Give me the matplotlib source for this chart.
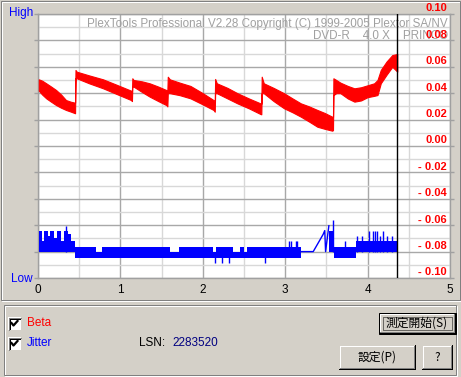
import numpy as np
import matplotlib.pyplot as plt
from matplotlib.patches import Rectangle

## Beta (red): upper / lower edge of the noisy band
beta_x = [0.01, 0.05, 0.10, 0.16, 0.22, 0.28, 0.34, 0.40, 0.45,
          0.455, 0.47, 0.62, 0.79, 0.95, 1.13, 1.14,
          1.145, 1.16, 1.26, 1.355, 1.46, 1.557, 1.57,
          1.575, 1.60, 1.72, 1.85, 2.00, 2.13, 2.145,
          2.15, 2.17, 2.30, 2.42, 2.56, 2.70, 2.71,
          2.715, 2.74, 2.86, 2.985, 3.09, 3.19, 3.29, 3.39, 3.48, 3.57, 3.58,
          3.585, 3.62, 3.67, 3.76, 3.84, 3.92, 4.00, 4.08, 4.12, 4.16, 4.23, 4.30, 4.36]
beta_hi = [0.0505, 0.0495, 0.0475, 0.0450, 0.0424, 0.0390, 0.0348, 0.0335, 0.0328,
           0.0576, 0.0563, 0.0535, 0.0505, 0.0465, 0.0419, 0.0410,
           0.0513, 0.0500, 0.0490, 0.0475, 0.0450, 0.0424, 0.0420,
           0.0525, 0.0505, 0.0480, 0.0455, 0.0400, 0.0348, 0.0340,
           0.0508, 0.0475, 0.0440, 0.0400, 0.0360, 0.0323, 0.0320,
           0.0525, 0.0475, 0.0440, 0.0400, 0.0360, 0.0323, 0.0300, 0.0273, 0.0250, 0.0222, 0.0220,
           0.0513, 0.0500, 0.0480, 0.0455, 0.0437, 0.0445, 0.0460, 0.0475, 0.0500, 0.0576, 0.0640, 0.0689, 0.0697]
beta_lo = [0.0419, 0.0390, 0.0361, 0.0335, 0.0310, 0.0290, 0.0273, 0.0260, 0.0248,
           0.0513, 0.0513, 0.0475, 0.0437, 0.0395, 0.0348, 0.0340,
           0.0450, 0.0450, 0.0410, 0.0374, 0.0340, 0.0310, 0.0300,
           0.0400, 0.0400, 0.0385, 0.0361, 0.0315, 0.0273, 0.0260,
           0.0400, 0.0400, 0.0360, 0.0323, 0.0285, 0.0242, 0.0240,
           0.0400, 0.0400, 0.0340, 0.0286, 0.0255, 0.0222, 0.0185, 0.0146, 0.0130, 0.0116, 0.0120,
           0.0386, 0.0400, 0.0400, 0.0360, 0.0336, 0.0345, 0.0370, 0.0380, 0.0386, 0.0475, 0.0540, 0.0600, 0.0563]

## Jitter (blue): step band (top / bottom) around the -0.08 base line
jit_x = [0.016, 0.05, 0.07, 0.12, 0.15, 0.20, 0.23, 0.28, 0.31, 0.36, 0.40,
         0.454, 0.70, 0.78, 1.60, 1.71, 2.12, 2.16, 2.37, 2.45, 2.50, 2.54,
         3.19, 3.53, 3.595, 3.86, 4.37]
jit_hi = [-0.0644, -0.0718, -0.0644, -0.0680, -0.0644, -0.0700, -0.0644, -0.0718, -0.0644, -0.0667, -0.0718,
          -0.0764, -0.0800, -0.0764, -0.0800, -0.0764, -0.0800, -0.0764, -0.0800, -0.0764, -0.0800, -0.0764,
          -0.0800, -0.0645, -0.0764, -0.0718, -0.0718]
jit_lo = [-0.0800, -0.0800, -0.0800, -0.0800, -0.0800, -0.0800, -0.0800, -0.0800, -0.0800, -0.0800, -0.0800,
          -0.0846, -0.0846, -0.0846, -0.0846, -0.0846, -0.0846, -0.0846, -0.0846, -0.0846, -0.0846, -0.0846,
          -0.0800, -0.0800, -0.0846, -0.0800, -0.0800]
## flat part + ramp before the last zone
ramp_x = [3.19, 3.34, 3.40, 3.46, 3.48, 3.49, 3.53]
ramp_y = [-0.0800, -0.0800, -0.0735, -0.0670, -0.0641, -0.0800, -0.0604]
## single spikes
spk_x = [0.34, 3.045, 3.066, 3.127, 3.147, 3.585, 3.73, 3.877, 3.93, 4.02, 4.06,
         4.09, 4.12, 4.15, 4.19, 4.24, 4.30]
spk_y = [-0.0606, -0.0718, -0.0718, -0.0718, -0.0718, -0.0560, -0.0718, -0.0679, -0.0679, -0.0641, -0.0641,
         -0.0641, -0.0641, -0.0679, -0.0641, -0.0679, -0.0679]
dip_x = [2.145, 2.235, 2.315, 2.76]
dip_y = [-0.089, -0.089, -0.089, -0.089]
base = -0.080

marker_x = 4.355   # current position
lsn = '2283520'

x_ticks = [0, 1, 2, 3, 4, 5]
beta_ticks = [0.10, 0.08, 0.06, 0.04, 0.02, 0.00, -0.02, -0.04, -0.06, -0.08, -0.10]
beta_labels = ['0.10', '0.08', '0.06', '0.04', '0.02', '0.00',
               '- 0.02', '- 0.04', '- 0.06', '- 0.08', '- 0.10']

plt.rcParams['font.family'] = ['Liberation Sans', 'DejaVu Sans']
PX = 0.72          # one pixel in points
WIN = '#D4D0C8'
jp = ['Noto Sans CJK JP', 'DejaVu Sans']

fig = plt.figure(figsize=(4.61, 3.77), dpi=100, facecolor=WIN)

## background layer in pixel coordinates
bg = fig.add_axes([0, 0, 1, 1], zorder=0)
bg.set_xlim(0, 461)
bg.set_ylim(377, 0)
bg.axis('off')

def groove(x0, y0, x1, y1):
    bg.add_patch(Rectangle((x0 + 1, y0 + 1), x1 - x0, y1 - y0, fill=False, ec='white', lw=PX))
    bg.add_patch(Rectangle((x0, y0), x1 - x0, y1 - y0, fill=False, ec='#808080', lw=PX))

groove(0.5, 0.5, 459.5, 299.5)
groove(3.5, 304.5, 455.5, 374.5)

def button(x0, y0, x1, y1, label, default=False):
    bg.add_patch(Rectangle((x0, y0), x1 - x0, y1 - y0, fc=WIN, ec='none'))
    if default:
        bg.add_patch(Rectangle((x0 + 0.5, y0 + 0.5), x1 - x0 - 1, y1 - y0 - 1, fill=False, ec='black', lw=PX))
        x0, y0, x1, y1 = x0 + 1, y0 + 1, x1 - 1, y1 - 1
    bg.plot([x0 + 0.5, x1 - 1], [y0 + 0.5, y0 + 0.5], color='white', lw=PX)
    bg.plot([x0 + 0.5, x0 + 0.5], [y0 + 0.5, y1 - 1], color='white', lw=PX)
    bg.plot([x0, x1 - 0.5], [y1 - 0.5, y1 - 0.5], color='black', lw=PX)
    bg.plot([x1 - 0.5, x1 - 0.5], [y0, y1 - 0.5], color='black', lw=PX)
    bg.plot([x0 + 1, x1 - 1.5], [y1 - 1.5, y1 - 1.5], color='#808080', lw=PX)
    bg.plot([x1 - 1.5, x1 - 1.5], [y0 + 1, y1 - 1.5], color='#808080', lw=PX)
    if default:
        bg.add_patch(Rectangle((x0 + 3.5, y0 + 3.5), x1 - x0 - 7, y1 - y0 - 7, fill=False,
                               ec='black', lw=PX, ls=(0, (1, 1))))
    bg.text((x0 + x1) / 2, (y0 + y1) / 2 + 0.5, label, ha='center', va='center',
            fontsize=8.5, family=jp)

button(378, 312, 456, 334, '測定開始(S)', default=True)
button(339, 345, 415, 369, '設定(P)')
button(422, 345, 452, 369, '?')

def checkbox(x0, y0):
    bg.add_patch(Rectangle((x0, y0), 13, 13, fc='white', ec='none'))
    bg.plot([x0 + 0.5, x0 + 12.5], [y0 + 0.5, y0 + 0.5], color='#808080', lw=PX)
    bg.plot([x0 + 0.5, x0 + 0.5], [y0 + 0.5, y0 + 12.5], color='#808080', lw=PX)
    bg.plot([x0 + 1.5, x0 + 11.5], [y0 + 1.5, y0 + 1.5], color='black', lw=PX)
    bg.plot([x0 + 1.5, x0 + 1.5], [y0 + 1.5, y0 + 11.5], color='black', lw=PX)
    bg.plot([x0 + 3.5, x0 + 5.5, x0 + 9.5], [y0 + 6, y0 + 8.5, y0 + 4], color='black', lw=1.6)

checkbox(8, 317)
checkbox(8, 337)
bg.text(27, 323.5, 'Beta', color='red', fontsize=8.5, va='center')
bg.text(27, 343.5, 'Jitter', color='blue', fontsize=8.5, va='center')
bg.text(139, 343.5, 'LSN:', color='black', fontsize=8.5, va='center')
bg.text(172, 343.5, lsn, color='#000080', fontsize=8.5, va='center')
bg.text(33, 13, 'High', color='blue', fontsize=8.5, ha='right', va='center')
bg.text(33, 279, 'Low', color='blue', fontsize=8.5, ha='right', va='center')

## the chart itself
ax = fig.add_axes([38 / 461, 1 - 278 / 377, 412 / 461, 264 / 377], zorder=1)
ax.set_facecolor('white')
ax.set_xlim(0, 5)
ax.set_ylim(-0.10, 0.10)
ax.set_axisbelow(True)

ax.set_xticks(x_ticks)
ax.set_xticks(np.arange(0.5, 5, 1.0), minor=True)
ax.set_yticks(beta_ticks)
ax.set_yticks(np.arange(-0.09, 0.095, 0.02), minor=True)
ax.set_yticklabels([])
ax.grid(which='major', color='#A8A8A8', lw=1.0)
ax.grid(which='minor', color='#D8D8D8', lw=1.0)
ax.tick_params(axis='x', which='both', length=0, pad=4, labelsize=8.5)
ax.tick_params(axis='y', which='major', left=True, right=True, direction='out',
               length=3, width=1, color='#A0A0A0')
ax.tick_params(axis='y', which='minor', left=False, right=False)
for s in ax.spines.values():
    s.set_color('#A0A0A0')
    s.set_linewidth(1.0)

ax.fill_between(beta_x, beta_lo, beta_hi, color='#FF0000', lw=0.8, zorder=3)
ax.fill_between(jit_x, jit_lo, jit_hi, step='post', color='#0000FF', lw=0, zorder=3)
ax.plot(ramp_x, ramp_y, color='#0000FF', lw=1.0, zorder=3)
ax.vlines(spk_x, base, spk_y, color='#0000FF', lw=1.0, zorder=3)
ax.vlines(dip_x, base, dip_y, color='#0000FF', lw=1.0, zorder=3)
ax.axvline(marker_x, color='black', lw=1.0, zorder=4)

ax.text(0.995, 0.964, 'PlexTools Professional V2.28 Copyright (C) 1999-2005 Plextor SA/NV',
        transform=ax.transAxes, ha='right', va='center', color='#A0A0A0', fontsize=8.4, zorder=2)
ax.text(0.995, 0.918, 'DVD-R    4.0 X    PRINCO',
        transform=ax.transAxes, ha='right', va='center', color='#A0A0A0', fontsize=8.4, zorder=2)

for v, lab in zip(beta_ticks, beta_labels):
    ax.text(4.965, v + 0.0042, lab, ha='right', va='center', color='red', fontsize=8,
            fontweight='bold', clip_on=False, zorder=5)

fig.savefig('out.png', dpi=100, facecolor=WIN)
